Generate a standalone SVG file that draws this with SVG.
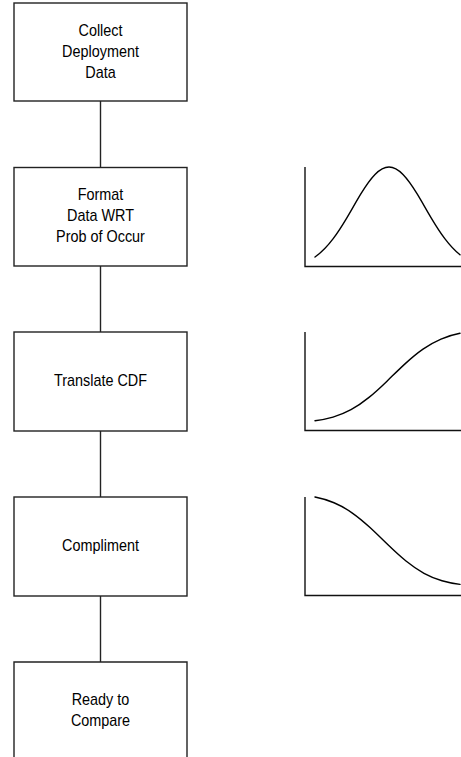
<svg xmlns="http://www.w3.org/2000/svg" width="461" height="757" viewBox="0 0 461 757">
<style>
.box{fill:#fff;stroke:#222;stroke-width:1.4}
.lbl{font-family:"Liberation Sans",Arial,sans-serif;font-size:16px;fill:#000;text-anchor:middle}
.tx{transform:translate(100.5px,0) scale(0.9,1)}
.conn{stroke:#222;stroke-width:1.4;fill:none}
.axis{stroke:#111;stroke-width:1.4;fill:none}
.curve{stroke:#000;stroke-width:1.4;fill:none;stroke-linecap:round}
</style>
<rect width="461" height="757" fill="#fff"/>
<g id="connectors">
<line class="conn" x1="100.5" y1="101" x2="100.5" y2="167"/>
<line class="conn" x1="100.5" y1="266" x2="100.5" y2="332"/>
<line class="conn" x1="100.5" y1="431" x2="100.5" y2="497"/>
<line class="conn" x1="100.5" y1="596" x2="100.5" y2="662"/>
</g>
<g id="collect">
<rect class="box" x="14" y="3" width="173" height="98"/>
<g class="tx">
<text class="lbl" x="0" y="36">Collect</text>
<text class="lbl" x="0" y="57">Deployment</text>
<text class="lbl" x="0" y="78">Data</text>
</g>
</g>
<g id="format">
<rect class="box" x="14" y="167.5" width="173" height="98.5"/>
<g class="tx">
<text class="lbl" x="0" y="200.5">Format</text>
<text class="lbl" x="0" y="221.5">Data WRT</text>
<text class="lbl" x="0" y="242.5">Prob of Occur</text>
</g>
</g>
<g id="translate">
<rect class="box" x="14" y="332" width="173" height="99"/>
<g class="tx">
<text class="lbl" x="0" y="386.5">Translate CDF</text>
</g>
</g>
<g id="compliment">
<rect class="box" x="14" y="497" width="173" height="99"/>
<g class="tx">
<text class="lbl" x="0" y="551.5">Compliment</text>
</g>
</g>
<g id="ready">
<path class="box" d="M14,760 V662 H187 V760"/>
<g class="tx">
<text class="lbl" x="0" y="705">Ready to</text>
<text class="lbl" x="0" y="726">Compare</text>
</g>
</g>
<g id="chart-pdf">
<path class="axis" d="M305,167 V266.5 H461"/>
<path class="curve" d="M315,257 C321,252.76 327,246.81 333,238.9 C337.67,232.74 342.33,225.44 347,217.6 C351.67,209.76 356.33,201.33 361,193.7 C365.670,186.07 370.33,179.29 375,174.5 C379.67,169.71 384.33,167 389,167 C393.67,167 398.33,169.71 403,174.5 C407.67,179.29 412.33,186.07 417,193.7 C421.67,201.33 426.33,209.76 431,217.6 C435.67,225.44 440.33,232.74 445,238.9 C450,245.5 455,250.79 460,254.8"/>
</g>
<g id="chart-cdf">
<path class="axis" d="M305,332 V430.5 H461"/>
<path class="curve" d="M315,420.7 C321,419.96 327,418.83 333,417.08 C339,415.33 345,412.91 351,409.65 C357,406.39 363,402.25 369,397.38 C375,392.51 381,386.94 387,381.15 C393,375.36 399,369.38 405,363.87 C411,358.36 417,353.32 423,349.13 C429,344.94 435,341.58 441,339.04 C447.33,336.36 453.67,334.54 460,333.3"/>
</g>
<g id="chart-complement">
<path class="axis" d="M305,497 V595.5 H461"/>
<path class="curve" d="M315,497 C321.33,498.24 327.67,500.06 334,502.74 C340,505.28 346,508.64 352,512.83 C358,517.02 364,522.06 370,527.57 C376,533.08 382,539.06 388,544.85 C394,550.64 400,556.21 406,561.08 C412,565.95 418,570.09 424,573.35 C430,576.61 436,579.03 442,580.78 C448,582.53 454,583.66 460,584.4"/>
</g>
</svg>
